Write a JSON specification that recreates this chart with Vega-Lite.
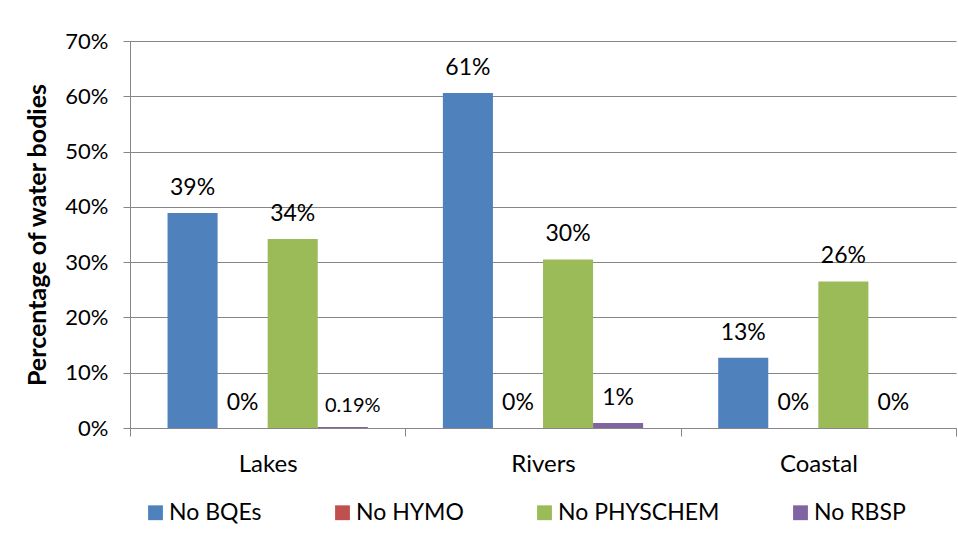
{
  "$schema": "https://vega.github.io/schema/vega-lite/v6.json",
  "width": 826,
  "height": 387,
  "autosize": "none",
  "padding": {"left": 130, "top": 41, "right": 2, "bottom": 131},
  "background": "white",
  "config": {"view": {"stroke": null}, "font": "Lato"},
  "data": {
    "values": [
      {"type": "Lakes", "series": "No BQEs", "value": 0.389, "label": "39%"},
      {"type": "Lakes", "series": "No HYMO", "value": 0, "label": "0%"},
      {"type": "Lakes", "series": "No PHYSCHEM", "value": 0.342, "label": "34%"},
      {"type": "Lakes", "series": "No RBSP", "value": 0.0019, "label": "0.19%"},
      {"type": "Rivers", "series": "No BQEs", "value": 0.606, "label": "61%"},
      {"type": "Rivers", "series": "No HYMO", "value": 0, "label": "0%"},
      {"type": "Rivers", "series": "No PHYSCHEM", "value": 0.305, "label": "30%"},
      {"type": "Rivers", "series": "No RBSP", "value": 0.009, "label": "1%"},
      {"type": "Coastal", "series": "No BQEs", "value": 0.127, "label": "13%"},
      {"type": "Coastal", "series": "No HYMO", "value": 0, "label": "0%"},
      {"type": "Coastal", "series": "No PHYSCHEM", "value": 0.265, "label": "26%"},
      {"type": "Coastal", "series": "No RBSP", "value": 0, "label": "0%"}
    ]
  },
  "encoding": {
    "x": {
      "field": "type", "type": "nominal", "sort": ["Lakes", "Rivers", "Coastal"],
      "scale": {"paddingInner": 0, "paddingOuter": 0},
      "axis": {"title": null, "labelAngle": 0, "labelFontSize": 24, "labelColor": "#000", "labelFont": "Lato",
               "domainColor": "#868686", "tickColor": "#868686", "tickBand": "extent", "tickSize": 8, "labelPadding": 16}
    },
    "xOffset": {
      "field": "series", "type": "nominal", "sort": ["No BQEs", "No HYMO", "No PHYSCHEM", "No RBSP"],
      "scale": {"paddingOuter": 0.75, "paddingInner": 0}
    },
    "y": {
      "field": "value", "type": "quantitative",
      "scale": {"domain": [0, 0.7]},
      "axis": {"format": ".0%", "values": [0, 0.1, 0.2, 0.3, 0.4, 0.5, 0.6, 0.7],
               "title": "Percentage of water bodies", "titleFontSize": 25, "titleFontWeight": "bold", "titleColor": "#000", "titleFont": "Lato",
               "titlePadding": 14,
               "labelFontSize": 22, "labelColor": "#000", "labelFont": "Lato", "labelPadding": 15,
               "gridColor": "#868686", "domainColor": "#868686", "tickColor": "#868686", "tickSize": 7}
    }
  },
  "layer": [
    {
      "mark": {"type": "bar"},
      "encoding": {
        "color": {
          "field": "series", "type": "nominal",
          "scale": {"domain": ["No BQEs", "No HYMO", "No PHYSCHEM", "No RBSP"], "range": ["#4F81BD", "#C0504D", "#9BBB59", "#8064A2"]},
          "legend": {"orient": "none", "legendX": 14, "legendY": 460, "padding": 0, "direction": "horizontal", "columns": 4,
                     "title": null, "symbolType": "square", "symbolSize": 220, "symbolStrokeWidth": 0,
                     "labelFontSize": 23, "labelColor": "#000", "labelFont": "Lato", "labelOffset": 2, "labelLimit": 400, "columnPadding": 69}
        }
      }
    },
    {
      "transform": [{"filter": "datum.label !== '0.19%'"}],
      "mark": {"type": "text", "baseline": "alphabetic", "dy": -18, "color": "#000", "font": "Lato", "fontSize": 23},
      "encoding": {"text": {"field": "label"}}
    },
    {
      "transform": [{"filter": "datum.label === '0.19%'"}],
      "mark": {"type": "text", "baseline": "alphabetic", "dy": -15, "dx": 10, "color": "#000", "font": "Lato", "fontSize": 20},
      "encoding": {"text": {"field": "label"}}
    }
  ]
}
